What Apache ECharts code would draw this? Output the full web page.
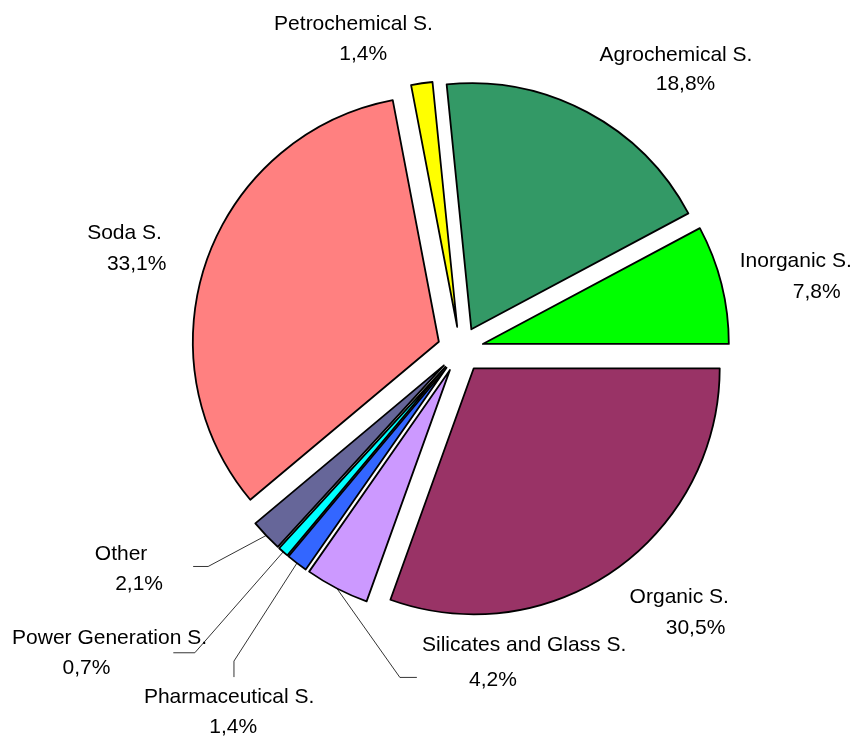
<!DOCTYPE html>
<html>
<head>
<meta charset="utf-8">
<script src="https://cdn.jsdelivr.net/npm/echarts@6/dist/echarts.min.js"></script>
<style>
html, body { margin: 0; padding: 0; background: #ffffff; }
#chart { width: 853px; height: 736px; }
</style>
</head>
<body>
<div id="chart"></div>
<script>
// ---- data (clockwise from 3 o'clock) ----
const categories = ['Organic S.', 'Silicates and Glass S.', 'Pharmaceutical S.', 'Power Generation S.', 'Other', 'Soda S.', 'Petrochemical S.', 'Agrochemical S.', 'Inorganic S.'];
const shares = [30.5, 4.2, 1.4, 0.7, 2.1, 33.1, 1.4, 18.8, 7.8];

// ---- styles ----
const colors = ['#993366', '#CC99FF', '#3366FF', '#00FFFF', '#666699', '#FF8080', '#FFFF00', '#339966', '#00FF00'];
const labelLen = [53.3, 83.8, 125.4, 134.2, 48.5, 31.9, 44.6, 47.6, 31.7];
const labelLen2 = [0, 0, 0, 21.5, 39.4, 0, 0, 0, 0];
const labelGap = [-16.2, -327.9, -93.6, -33.7, 28.7, 10.6, -17.5, -10, -12.5];
const labelPadTop = [0, 0, 99.6, 0, 0, 0, 0, 0, 0];
const pctShift = [32.6, -62.4, 8.2, -46, 36, 24.4, 19.6, 19, 41.8];
const showGuide = [false, true, true, true, true, false, false, false, false];
const lineGap = [31, 35.5, 30, 30, 30, 31.4, 30, 29, 31.4];
const guideShape = {
  'Silicates and Glass S.': { bend: [63, 89], end: [80, 89] },
  'Pharmaceutical S.': { bend: [-63, 98], end: [-63, 114] },
  'Other': { bend: [-58, 31], end: [-73, 31] }
};

const fmt = v => v.toFixed(1).replace('.', ',') + '%';
const FONT = 'Liberation Sans, Arial, sans-serif';

const seriesData = categories.map((name, i) => ({
  name: name,
  value: shares[i],
  selected: true,
  itemStyle: { color: colors[i] },
  label: {
    distanceToLabelLine: labelGap[i],
    padding: [labelPadTop[i], 0, 0, 0],
    rich: {
      n: { fontSize: 21, lineHeight: lineGap[i], align: 'center', color: '#000', fontFamily: FONT },
      p: {
        fontSize: 21, lineHeight: lineGap[i], align: 'center', color: '#000', fontFamily: FONT,
        padding: pctShift[i] >= 0 ? [0, 0, 0, pctShift[i]] : [0, -pctShift[i], 0, 0]
      }
    }
  },
  labelLine: { show: showGuide[i], length: labelLen[i], length2: labelLen2[i] }
}));

const chart = echarts.init(document.getElementById('chart'), null, { renderer: 'canvas' });
chart.setOption({
  animation: false,
  backgroundColor: '#ffffff',
  series: [{
    type: 'pie',
    center: [460.5, 349.5],
    radius: 246,
    startAngle: 0,
    clockwise: true,
    selectedMode: 'multiple',
    selectedOffset: 23,
    avoidLabelOverlap: false,
    itemStyle: { borderColor: '#000', borderWidth: 1.8 },
    select: { itemStyle: { borderColor: '#000', borderWidth: 1.8 } },
    emphasis: { disabled: true },
    label: {
      show: true,
      position: 'outside',
      overflow: 'none',
      formatter: p => '{n|' + p.name + '}\n{p|' + fmt(p.value) + '}',
      fontSize: 21,
      fontFamily: FONT,
      color: '#000'
    },
    labelLine: {
      lineStyle: { color: '#000', width: 0.8 },
      minTurnAngle: 0,
      maxSurfaceAngle: 180
    },
    labelLayout: function (p) {
      const pts = p.labelLinePoints;
      const g = guideShape[categories[p.dataIndex]];
      if (!pts || !g) return {};
      const a = pts[0];
      return { labelLinePoints: [a, [a[0] + g.bend[0], a[1] + g.bend[1]], [a[0] + g.end[0], a[1] + g.end[1]]] };
    },
    data: seriesData
  }]
});
</script>
</body>
</html>
